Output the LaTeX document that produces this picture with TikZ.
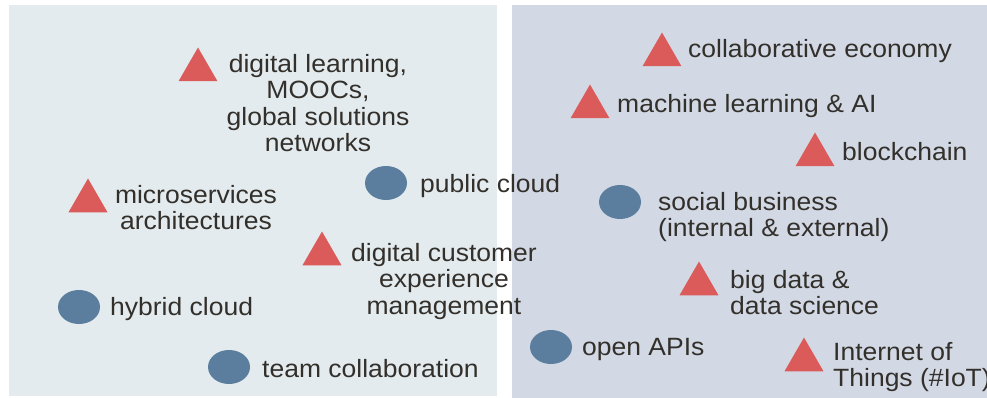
\documentclass[tikz,border=0pt]{standalone}
\usepackage{fontspec}
\setmainfont{Liberation Sans}[FakeStretch=1.06]
\usetikzlibrary{shapes.geometric}

\definecolor{leftbg}{HTML}{E3EBEE}
\definecolor{rightbg}{HTML}{D2D9E5}
\definecolor{trired}{HTML}{DB5A5A}
\definecolor{dotblue}{HTML}{5B7E9E}
\definecolor{txt}{HTML}{33302B}

\begin{document}
\begin{tikzpicture}[x=1pt,y=-1pt]

\tikzset{tri/.style={regular polygon,regular polygon sides=3,minimum size=45pt,inner sep=0pt,fill=trired},
  dot/.style={ellipse,minimum width=42pt,minimum height=34pt,inner sep=0pt,fill=dotblue},
  lbl/.style={font=\fontsize{25}{26.5}\selectfont,text=txt,inner sep=0pt,anchor=north west,align=left,
    execute at begin node=\strut},
  lblc/.style={lbl,anchor=north,align=center}}

  \useasboundingbox (0,0) rectangle (987,398);
  \fill[leftbg] (9,5) rectangle (497,396);
  \fill[rightbg] (512,5) rectangle (987,398);

  % left panel
  \node[tri] (dl) at (198, 70) {};
  \node[tri] (ms) at (88, 201) {};
  \node[tri] (dc) at (322, 254) {};
  \node[dot] (pc) at (386, 183) {};
  \node[dot] (hc) at (79, 307) {};
  \node[dot] (tc) at (229, 367) {};

  \node[lblc] (dl-t) at (318, 54) {digital learning,\\MOOCs,\\global solutions\\networks};
  \node[lblc] (ms-t) at (196, 185) {microservices\\architectures};
  \node[lblc] (dc-t) at (444, 243) {digital customer\\experience\\management};
  \node[lbl] (pc-t) at (420, 174) {public cloud};
  \node[lbl] (hc-t) at (110, 297) {hybrid cloud};
  \node[lbl] (tc-t) at (262, 359) {team collaboration};

  % right panel
  \node[tri] (ce) at (662, 55) {};
  \node[tri] (ml) at (590, 107) {};
  \node[tri] (bc) at (815, 155) {};
  \node[tri] (bd) at (699, 284) {};
  \node[tri] (iot) at (804, 360) {};
  \node[dot] (sb) at (620, 202) {};
  \node[dot] (oa) at (551, 347) {};

  \node[lbl] (ce-t) at (688, 39) {collaborative economy};
  \node[lbl] (ml-t) at (617, 94) {machine learning \& AI};
  \node[lbl] (bc-t) at (842, 142) {blockchain};
  \node[lbl] (sb-t) at (658, 192) {social business\\(internal \& external)};
  \node[lbl] (bd-t) at (730, 270) {big data \&\\data science};
  \node[lbl] (oa-t) at (582, 337) {open APIs};
  \node[lbl] (iot-t) at (833, 342) {Internet of\\Things (\#IoT)};

\end{tikzpicture}
\end{document}
